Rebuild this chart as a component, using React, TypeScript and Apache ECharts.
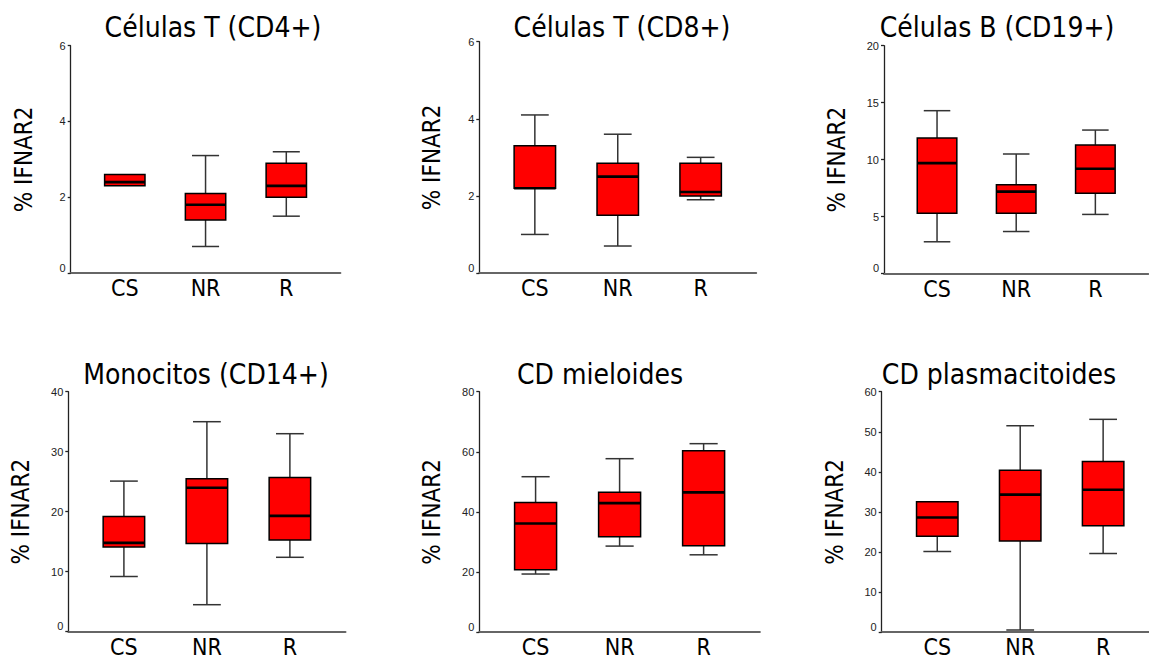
import React, { useEffect, useRef } from "react";
import * as echarts from "echarts";

// ---- data ----
const categories = ["CS", "NR", "R"];
const panelTitles = [
  "Células T (CD4+)",
  "Células T (CD8+)",
  "Células B (CD19+)",
  "Monocitos (CD14+)",
  "CD mieloides",
  "CD plasmacitoides",
];
const yAxisName = "% IFNAR2";
const yMax = [6, 6, 20, 40, 80, 60];
const yInterval = [2, 2, 5, 10, 20, 10];

// [min, Q1, median, Q3, max] per category (CS, NR, R)
const cd4 = [
  [2.3, 2.3, 2.4, 2.6, 2.6],
  [0.7, 1.4, 1.8, 2.1, 3.1],
  [1.5, 2.0, 2.3, 2.9, 3.2],
];
const cd8 = [
  [1.0, 2.2, 2.2, 3.3, 4.1],
  [0.7, 1.5, 2.5, 2.85, 3.6],
  [1.9, 2.0, 2.1, 2.85, 3.0],
];
const cd19 = [
  [2.8, 5.3, 9.7, 11.9, 14.3],
  [3.7, 5.3, 7.2, 7.8, 10.5],
  [5.2, 7.05, 9.2, 11.3, 12.6],
];
const cd14 = [
  [9.2, 14.1, 14.8, 19.2, 25.1],
  [4.5, 14.7, 24.0, 25.5, 35.0],
  [12.4, 15.3, 19.3, 25.7, 33.0],
];
const mieloides = [
  [19.3, 20.7, 36.1, 43.1, 51.7],
  [28.6, 31.7, 42.9, 46.5, 57.7],
  [25.7, 28.7, 46.5, 60.3, 62.7],
];
const plasmacitoides = [
  [20.1, 23.9, 28.6, 32.5, 32.5],
  [0.5, 22.7, 34.3, 40.4, 51.5],
  [19.6, 26.5, 35.5, 42.6, 53.1],
];
const panelData = [cd4, cd8, cd19, cd14, mieloides, plasmacitoides];

// ---- layout ----
const X_MIN = 0.33;
const X_MAX = 3.67;
const grids = [
  { left: 70.7, top: 45.7, width: 269.7, height: 227.3 },
  { left: 479.3, top: 41.7, width: 276.9, height: 231.3 },
  { left: 884, top: 45.7, width: 264.4, height: 228 },
  { left: 68.3, top: 391.7, width: 277.2, height: 240 },
  { left: 479.3, top: 391.7, width: 280.6, height: 240.3 },
  { left: 881.7, top: 391.7, width: 277, height: 240.3 },
];
const titlePos = [
  [213, 27],
  [622, 27],
  [997, 27],
  [206, 374],
  [600, 374],
  [999, 374],
];

const FONT = "'DejaVu Sans Condensed', 'DejaVu Sans', sans-serif";

function renderBox(params: any, api: any) {
  const x = api.value(0);
  const lo = api.coord([x, api.value(1)]);
  const q1 = api.coord([x, api.value(2)]);
  const md = api.coord([x, api.value(3)]);
  const q3 = api.coord([x, api.value(4)]);
  const hi = api.coord([x, api.value(5)]);
  const band = api.size([1, 0])[0];
  const bw = band * 0.5;
  const cw = bw * 0.67;
  const cx = md[0];
  const whisk = { stroke: "#333", lineWidth: 1.5 };
  const children: any[] = [];
  if (hi[1] < q3[1] - 0.5) {
    children.push({ type: "line", shape: { x1: cx, y1: hi[1], x2: cx, y2: q3[1] }, style: whisk });
    children.push({ type: "line", shape: { x1: cx - cw / 2, y1: hi[1], x2: cx + cw / 2, y2: hi[1] }, style: whisk });
  }
  if (lo[1] > q1[1] + 0.5) {
    children.push({ type: "line", shape: { x1: cx, y1: q1[1], x2: cx, y2: lo[1] }, style: whisk });
    children.push({ type: "line", shape: { x1: cx - cw / 2, y1: lo[1], x2: cx + cw / 2, y2: lo[1] }, style: whisk });
  }
  children.push({
    type: "rect",
    shape: { x: cx - bw / 2, y: q3[1], width: bw, height: q1[1] - q3[1] },
    style: { fill: "#ff0000", stroke: "#000", lineWidth: 1.5 },
  });
  children.push({
    type: "line",
    shape: { x1: cx - bw / 2, y1: md[1], x2: cx + bw / 2, y2: md[1] },
    style: { stroke: "#000", lineWidth: 2.6 },
  });
  return { type: "group", children };
}

export default function App() {
  const ref = useRef<HTMLDivElement>(null);
  useEffect(() => {
    if (!ref.current) return;
    const chart = echarts.init(ref.current, null, { renderer: "svg" });
    const option: any = {
      animation: false,
      backgroundColor: "#fff",
      grid: grids.map((g) => ({ ...g, containLabel: false, outerBoundsMode: "none" })),
      xAxis: grids.map((_, i) => ({
        type: "value",
        gridIndex: i,
        min: X_MIN,
        max: X_MAX,
        splitLine: { show: false },
        axisTick: { show: false },
        axisLine: { show: true, onZero: false, lineStyle: { color: "#666", width: 2 } },
        axisLabel: {
          customValues: [1, 2, 3],
          formatter: (v: number) => categories[Math.round(v) - 1] ?? "",
          fontFamily: FONT,
          fontSize: 23,
          lineHeight: 18,
          color: "#000",
          margin: 6,
        },
      })),
      yAxis: grids.map((_, i) => ({
        type: "value",
        gridIndex: i,
        min: 0,
        max: yMax[i],
        interval: yInterval[i],
        name: yAxisName,
        nameLocation: "middle",
        nameGap: 35,
        nameTextStyle: { fontFamily: FONT, fontSize: 24, color: "#000" },
        splitLine: { show: false },
        axisLine: { show: true, lineStyle: { color: "#222", width: 1.3 } },
        axisTick: { show: true, length: 3, lineStyle: { color: "#222", width: 1.3 } },
        axisLabel: {
          fontFamily: "'Liberation Sans', Arial, sans-serif",
          fontSize: 11,
          color: "#222",
          margin: 5,
          verticalAlignMinLabel: "bottom",
        },
      })),
      graphic: panelTitles.map((t, i) => ({
        type: "text",
        x: titlePos[i][0],
        y: titlePos[i][1],
        style: {
          text: t,
          fontFamily: FONT,
          fontSize: 28,
          fill: "#000",
          align: "center",
          verticalAlign: "middle",
        },
      })),
      series: panelData.map((d, i) => ({
        type: "custom",
        xAxisIndex: i,
        yAxisIndex: i,
        renderItem: renderBox,
        encode: { x: 0, y: [1, 2, 3, 4, 5] },
        data: d.map((row, k) => [k + 1, ...row]),
        clip: false,
      })),
    };
    chart.setOption(option);
    return () => chart.dispose();
  }, []);
  return (
    <div
      ref={ref}
      style={{ position: "fixed", left: 0, top: 0, width: 1149, height: 659, background: "#fff" }}
    />
  );
}
